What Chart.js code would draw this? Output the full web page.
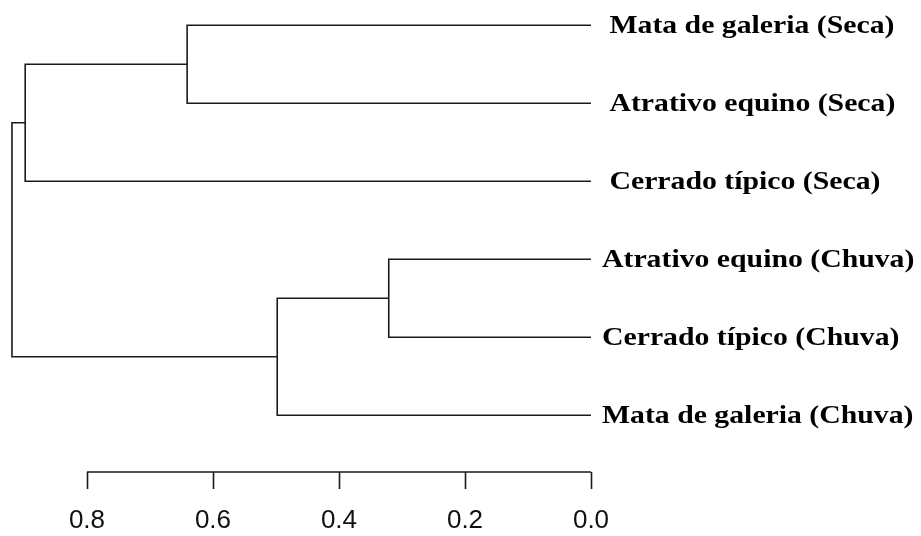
<!DOCTYPE html>
<html lang="pt">
<head>
<meta charset="UTF-8">
<title>Dendrograma</title>
<script src="https://cdn.jsdelivr.net/npm/chart.js"></script>
<style>
  body { margin: 0; background: #fff; }
  #chart { display: block; }
</style>
</head>
<body>
<canvas id="chart" width="921" height="536"></canvas>
<script>
// folhas, de cima para baixo (ordem do dendrograma)
var leafLabels = [
  " Mata de galeria (Seca)",
  " Atrativo equino (Seca)",
  " Cerrado típico (Seca)",
  "Atrativo equino (Chuva)",
  "Cerrado típico (Chuva)",
  "Mata de galeria (Chuva)"
];
// fusões no estilo hclust: negativo = folha, positivo = fusão anterior
var mergeA = [-4, 1, -1, 3, 4];
var mergeB = [-5, -6, -2, -3, 2];
var mergeHeight = [0.321, 0.498, 0.641, 0.898, 0.919];
var axisTicks = [0.8, 0.6, 0.4, 0.2, 0.0];

// monta os segmentos de cada fusão
var nodeY = [];
var nodeH = [];
function pos(i) {
  if (i < 0) return { y: -i, h: 0 };
  return { y: nodeY[i - 1], h: nodeH[i - 1] };
}
var datasets = [];
for (var k = 0; k < mergeHeight.length; k++) {
  var a = pos(mergeA[k]);
  var b = pos(mergeB[k]);
  var h = mergeHeight[k];
  datasets.push({
    data: [
      { x: a.h, y: a.y },
      { x: h, y: a.y },
      { x: h, y: b.y },
      { x: b.h, y: b.y }
    ],
    showLine: true,
    borderColor: "#1a1a1a",
    borderWidth: 1.6,
    pointRadius: 0,
    tension: 0,
    fill: false
  });
  nodeY.push((a.y + b.y) / 2);
  nodeH.push(h);
}

// eixo de altura e rótulos das folhas
var dendroExtras = {
  id: "dendroExtras",
  afterDraw: function(chart) {
    var ctx = chart.ctx;
    var xs = chart.scales.x;
    var ys = chart.scales.y;
    var axisY = 472;

    ctx.save();
    ctx.strokeStyle = "#1a1a1a";
    ctx.lineWidth = 1.6;
    ctx.beginPath();
    ctx.moveTo(xs.getPixelForValue(axisTicks[0]), axisY);
    ctx.lineTo(xs.getPixelForValue(axisTicks[axisTicks.length - 1]), axisY);
    for (var i = 0; i < axisTicks.length; i++) {
      var px = Math.round(xs.getPixelForValue(axisTicks[i])) + 0.5;
      ctx.moveTo(px, axisY);
      ctx.lineTo(px, axisY + 17);
    }
    ctx.stroke();

    ctx.fillStyle = "#111";
    ctx.font = "26px 'Liberation Sans', Arial, sans-serif";
    ctx.textAlign = "center";
    ctx.textBaseline = "middle";
    for (var j = 0; j < axisTicks.length; j++) {
      ctx.fillText(axisTicks[j].toFixed(1), xs.getPixelForValue(axisTicks[j]), 521);
    }

    // rótulos um pouco esticados na horizontal, como no original
    ctx.fillStyle = "#000";
    ctx.font = "bold 25px 'Liberation Serif', 'Times New Roman', serif";
    ctx.textAlign = "left";
    var x0 = xs.getPixelForValue(0) + 11;
    for (var n = 0; n < leafLabels.length; n++) {
      ctx.save();
      ctx.translate(x0, ys.getPixelForValue(n + 1) + 1);
      ctx.scale(1.19, 1);
      ctx.fillText(leafLabels[n], 0, 0);
      ctx.restore();
    }
    ctx.restore();
  }
};

new Chart(document.getElementById("chart"), {
  type: "scatter",
  data: { datasets: datasets },
  options: {
    responsive: false,
    animation: false,
    layout: { padding: { left: 0, right: 330, top: 0, bottom: 0 } },
    scales: {
      x: { type: "linear", reverse: true, min: 0, max: 0.938, display: false },
      y: { type: "linear", reverse: true, min: 0.676, max: 7.547, display: false }
    },
    plugins: {
      legend: { display: false },
      tooltip: { enabled: false }
    }
  },
  plugins: [dendroExtras]
});
</script>
</body>
</html>
